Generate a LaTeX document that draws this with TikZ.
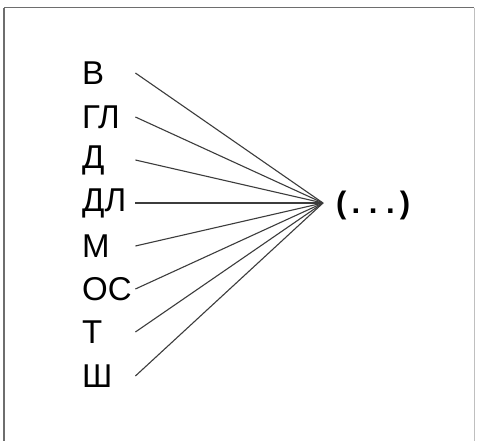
\documentclass[tikz,border=0pt]{standalone}
\usepackage{fontspec}
\setmainfont{Liberation Sans}
\usepackage{xcolor}
\definecolor{framegray}{RGB}{110,110,110}
\definecolor{linegray}{RGB}{60,60,60}

\begin{document}
\begin{tikzpicture}[x=1pt,y=-1pt,
    lbl/.style={anchor=west, inner sep=0pt, text width=53pt, align=left,
      font=\fontsize{33}{35}\selectfont},
    ray/.style={draw=linegray, line width=1.1pt}]
  \useasboundingbox (0,0) rectangle (479,441);
  \fill[white] (0,0) rectangle (479,441);

  % frame
  \draw[framegray, line width=2.2pt] (4,8) -- (4,441);
  \draw[framegray, line width=1pt] (4,8) -- (474,8);
  \draw[black!25, line width=1pt] (474,8) -- (474,441);

  \coordinate (hub) at (323,203);
  \node[anchor=west, inner sep=0pt, font=\fontsize{31}{33}\selectfont\bfseries] (rest) at (336,205) {(\,.\;.\;.\,)};

  \foreach \name/\y [count=\i] in {В/73, ГЛ/117, Д/160, ДЛ/203, М/246, ОС/289, Т/332, Ш/376} {
    \node[lbl] (l\i) at (82,\y) {\name};
    \draw[ray] (l\i.east) -- (hub);
  }
\end{tikzpicture}
\end{document}
